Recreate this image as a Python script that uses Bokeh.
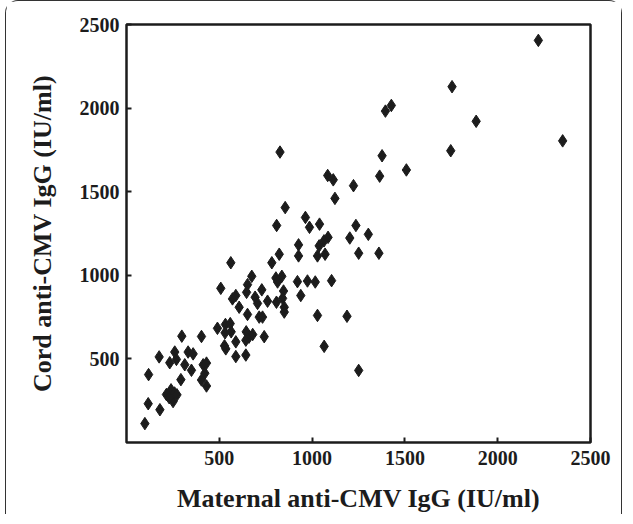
from bokeh.plotting import figure
from bokeh.models import Range1d, FixedTicker, Label
from bokeh.embed import file_html
from bokeh.resources import INLINE

# Maternal vs cord anti-CMV IgG (IU/ml)
maternal = [2219, 2350, 1754, 1884, 1747, 1427, 1395, 1377, 1364, 1508,
            827, 1084, 1114, 1123, 1223, 855, 809, 964, 986, 1040,
            1236, 1303, 1203, 1086, 1064, 1038, 1029, 1070, 927, 927,
            1251, 1360, 823, 562, 783, 675, 805, 837, 814, 921,
            975, 1017, 1105, 508, 652, 647, 729, 846, 939, 571,
            589, 693, 706, 760, 808, 841, 850, 850, 607, 652,
            715, 733, 1029, 1188, 490, 533, 559, 564, 531, 645,
            660, 680, 742, 589, 643, 1065, 535, 528, 589, 643,
            1251, 298, 404, 176, 260, 269, 233, 314, 332, 359,
            350, 293, 413, 431, 422, 404, 431, 119, 117, 180,
            99, 215, 240, 251, 259, 230, 272]
cord = [2405, 1804, 2128, 1921, 1745, 2016, 1982, 1715, 1593, 1630,
        1737, 1597, 1571, 1460, 1536, 1405, 1298, 1346, 1287, 1306,
        1298, 1245, 1223, 1227, 1206, 1176, 1116, 1126, 1182, 1116,
        1132, 1132, 1126, 1075, 1075, 994, 984, 994, 960, 962,
        966, 960, 968, 922, 944, 898, 913, 906, 879, 859,
        879, 869, 832, 845, 839, 862, 809, 780, 809, 766,
        750, 750, 760, 755, 683, 706, 711, 662, 656, 662,
        630, 646, 633, 602, 612, 575, 560, 578, 514, 523,
        431, 636, 634, 512, 541, 497, 477, 465, 541, 530,
        432, 376, 465, 475, 414, 374, 338, 406, 232, 196,
        113, 287, 315, 245, 296, 268, 285]

x_ticks = [500, 1000, 1500, 2000, 2500]
y_ticks = [500, 1000, 1500, 2000, 2500]
origin_label = "0"
x_title = "Maternal anti-CMV IgG (IU/ml)"
y_title = "Cord anti-CMV IgG (IU/ml)"

FONT = "Liberation Serif"
INK = "#1c1c1c"

p = figure(width=617, height=514, x_range=Range1d(0, 2500), y_range=Range1d(0, 2500),
           output_backend="svg", toolbar_location=None,
           min_border_left=120, min_border_right=33, min_border_top=23, min_border_bottom=70)
p.margin = (0, 0, 0, 5)
p.styles = {"border": "1px solid #333", "border-bottom": "none",
            "border-radius": "13px 13px 0 0"}

p.scatter(maternal, cord, marker="diamond", size=12.5, fill_color=INK, line_color=INK)

p.grid.visible = False
p.outline_line_color = INK
p.outline_line_width = 2.5
p.outline_line_alpha = 1

for ax in (p.xaxis[0], p.yaxis[0]):
    ax.axis_line_color = None
    ax.major_tick_in = 5
    ax.major_tick_out = 0
    ax.major_tick_line_width = 2
    ax.major_tick_line_color = INK
    ax.minor_tick_line_color = None
    ax.major_label_text_font = FONT
    ax.major_label_text_font_style = "bold"
    ax.major_label_text_font_size = "20px"
    ax.major_label_text_color = INK
    ax.axis_label_text_font = FONT
    ax.axis_label_text_font_style = "bold"
    ax.axis_label_text_font_size = "26px"
    ax.axis_label_text_color = INK

p.xaxis[0].ticker = FixedTicker(ticks=x_ticks)
p.yaxis[0].ticker = FixedTicker(ticks=y_ticks)
p.xaxis[0].axis_label = x_title
p.yaxis[0].axis_label = y_title
p.xaxis[0].major_label_standoff = 8
p.yaxis[0].major_label_standoff = 7
p.xaxis[0].axis_label_standoff = 16
p.yaxis[0].axis_label_standoff = 20

p.add_layout(Label(x=0, y=0, text=origin_label, x_offset=-12, y_offset=-10,
                   text_align="center", text_baseline="top",
                   text_font=FONT, text_font_style="bold", text_font_size="20px",
                   text_color=INK))

open("out.html", "w").write(file_html(p, INLINE))
